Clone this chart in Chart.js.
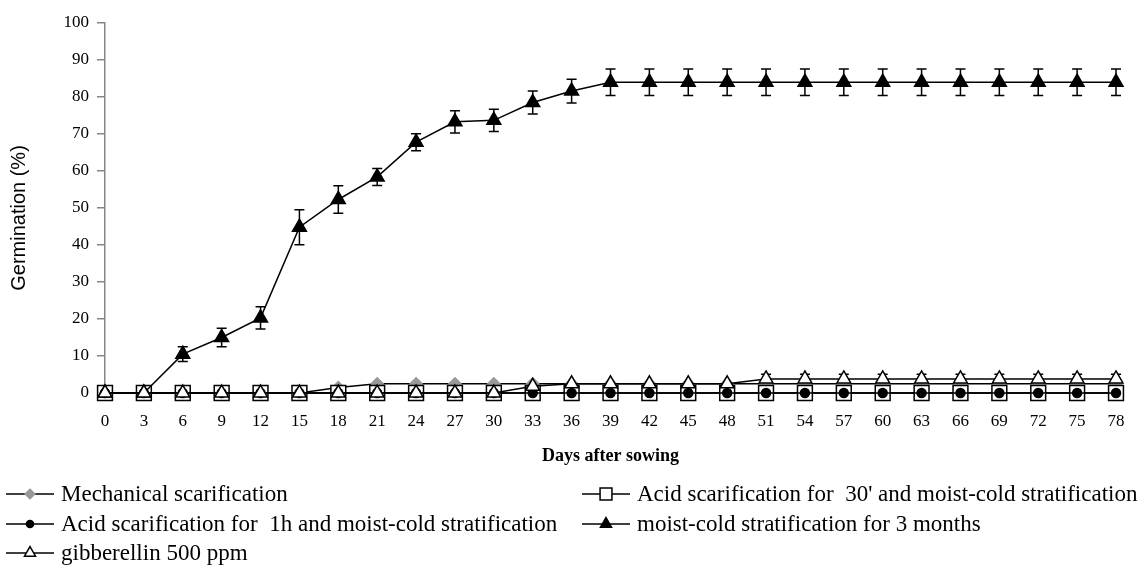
<!DOCTYPE html>
<html>
<head>
<meta charset="utf-8">
<script src="https://cdn.jsdelivr.net/npm/chart.js@4.4.0/dist/chart.umd.min.js"></script>
<style>
  html, body { margin: 0; padding: 0; background: #fff; }
  #wrap { width: 1145px; height: 567px; }
</style>
</head>
<body>
<div id="wrap"><canvas id="germChart" width="1145" height="567"></canvas></div>
<script>
// days after sowing (x categories)
const days = ['0', '3', '6', '9', '12', '15', '18', '21', '24', '27', '30', '33', '36', '39',
  '42', '45', '48', '51', '54', '57', '60', '63', '66', '69', '72', '75', '78'];

// germination (%) per treatment
const mechanical = [0, 0, 0, 0, 0, 0, 1.5, 2.5, 2.5, 2.5, 2.5, 2.5, 2.5, 2.5,
  2.5, 2.5, 2.5, 2.5, 2.5, 2.5, 2.5, 2.5, 2.5, 2.5, 2.5, 2.5, 2.5];
const acid30 = [0, 0, 0, 0, 0, 0, 0, 0, 0, 0, 0, 0, 0, 0,
  0, 0, 0, 0, 0, 0, 0, 0, 0, 0, 0, 0, 0];
const acid1h = [0, 0, 0, 0, 0, 0, 0, 0, 0, 0, 0, 0, 0, 0,
  0, 0, 0, 0, 0, 0, 0, 0, 0, 0, 0, 0, 0];
const moistCold = [0, 0, 10.5, 15, 20.3, 44.8, 52.3, 58.4, 67.8, 73.3, 73.7, 78.5, 81.6, 84,
  84, 84, 84, 84, 84, 84, 84, 84, 84, 84, 84, 84, 84];
const gibberellin = [0, 0, 0, 0, 0, 0, 0, 0, 0, 0, 0, 1.8, 2.5, 2.5,
  2.5, 2.5, 2.5, 3.8, 3.8, 3.8, 3.8, 3.8, 3.8, 3.8, 3.8, 3.8, 3.8];

// standard errors (drawn as error bars)
const moistColdErr = [0, 0, 2, 2.5, 3, 4.7, 3.7, 2.3, 2.3, 3, 3, 3.1, 3.2, 3.6,
  3.6, 3.6, 3.6, 3.6, 3.6, 3.6, 3.6, 3.6, 3.6, 3.6, 3.6, 3.6, 3.6];
const gibberellinErr = [0, 0, 0, 0, 0, 0, 0, 0, 0, 0, 0, 0, 0, 0,
  0, 0, 0, 1.3, 1.3, 1.3, 1.3, 1.3, 1.3, 1.3, 1.3, 1.3, 1.3];

const yTicks = [0, 10, 20, 30, 40, 50, 60, 70, 80, 90, 100];

const serif = '"Liberation Serif", "Times New Roman", serif';
const sans = '"Liberation Sans", Arial, sans-serif';

// error bars under the markers
const errorBars = {
  id: 'errorBars',
  beforeDatasetsDraw(chart) {
    const ctx = chart.ctx;
    const xs = chart.scales.x, ys = chart.scales.y;
    chart.data.datasets.forEach(ds => {
      if (!ds.errorBars) return;
      ctx.save();
      ctx.strokeStyle = '#000';
      ctx.lineWidth = 1.5;
      ds.errorBars.forEach((e, j) => {
        if (!e) return;
        const px = xs.getPixelForValue(j);
        const top = ys.getPixelForValue(ds.data[j] + e);
        const bot = ys.getPixelForValue(ds.data[j] - e);
        ctx.beginPath();
        ctx.moveTo(px, top); ctx.lineTo(px, bot);
        ctx.moveTo(px - 5, top); ctx.lineTo(px + 5, top);
        ctx.moveTo(px - 5, bot); ctx.lineTo(px + 5, bot);
        ctx.stroke();
      });
      ctx.restore();
    });
  }
};

// y title drawn by hand so it can sit a bit below the middle, like the original
const yTitle = {
  id: 'yTitle',
  afterDraw(chart) {
    const ctx = chart.ctx;
    ctx.save();
    ctx.translate(19, 218);
    ctx.rotate(-Math.PI / 2);
    ctx.fillStyle = '#000';
    ctx.font = '20px ' + sans;
    ctx.textAlign = 'center';
    ctx.textBaseline = 'middle';
    ctx.fillText('Germination (%)', 0, 0);
    ctx.restore();
  }
};

// legend: two columns under the axis title
const legendSlots = [[6, 494], [582, 494], [6, 524], [582, 524], [6, 553]];
const sideLegend = {
  id: 'sideLegend',
  afterDraw(chart) {
    const ctx = chart.ctx;
    chart.data.datasets.forEach((ds, i) => {
      const [x, y] = legendSlots[i];
      ctx.save();
      ctx.strokeStyle = '#000';
      ctx.lineWidth = 1.5;
      ctx.beginPath();
      ctx.moveTo(x, y); ctx.lineTo(x + 48, y);
      ctx.stroke();
      ctx.fillStyle = ds.pointBackgroundColor;
      ctx.strokeStyle = ds.pointBorderColor;
      Chart.helpers.drawPoint(ctx, {
        pointStyle: ds.pointStyle,
        radius: ds.pointRadius * 0.8,
        borderWidth: ds.pointBorderWidth,
        rotation: 0
      }, x + 24, y);
      ctx.fillStyle = '#000';
      ctx.font = '23px ' + serif;
      ctx.textBaseline = 'middle';
      ctx.fillText(ds.label, x + 55, y + 1);
      ctx.restore();
    });
  }
};

function series(label, data, style, radius, fill, border) {
  return {
    label: label,
    data: data,
    borderColor: '#000',
    borderWidth: 1.5,
    pointStyle: style,
    pointRadius: radius,
    pointBackgroundColor: fill,
    pointBorderColor: border,
    pointBorderWidth: 1.5,
    fill: false,
    tension: 0,
    clip: false
  };
}

const dsMech = series('Mechanical scarification', mechanical, 'rectRot', 6, '#999', '#999');
const dsA30 = series("Acid scarification for  30' and moist-cold stratification", acid30, 'rect', 10.5, '#fff', '#000');
const dsA1h = series('Acid scarification for  1h and moist-cold stratification', acid1h, 'circle', 4.5, '#000', '#000');
const dsMoist = series('moist-cold stratification for 3 months', moistCold, 'triangle', 8, '#000', '#000');
const dsGib = series('gibberellin 500 ppm', gibberellin, 'triangle', 8, '#fff', '#000');
dsMoist.errorBars = moistColdErr;
dsGib.errorBars = gibberellinErr;
// later series drawn on top, as in the source
dsMech.order = 5; dsA30.order = 4; dsA1h.order = 3; dsMoist.order = 2; dsGib.order = 1;

new Chart('germChart', {
  type: 'line',
  data: {
    labels: days,
    datasets: [dsMech, dsA30, dsA1h, dsMoist, dsGib]
  },
  options: {
    responsive: false,
    animation: false,
    devicePixelRatio: 1,
    layout: { padding: { top: 23, right: 29, bottom: 97, left: 0 } },
    plugins: {
      legend: { display: false },
      tooltip: { enabled: false }
    },
    scales: {
      x: {
        offset: false,
        grid: { display: false, drawTicks: false },
        border: { color: '#868686', width: 1.5 },
        ticks: { color: '#000', padding: 18, maxRotation: 0, autoSkip: false, font: { family: serif, size: 17 } },
        title: {
          display: true,
          text: 'Days after sowing',
          color: '#000',
          padding: { top: 0, bottom: 3 },
          font: { family: serif, size: 18, weight: 'bold' }
        },
        afterFit(scale) { scale.height = 77; }
      },
      y: {
        min: 0,
        max: 100,
        afterBuildTicks(scale) { scale.ticks = yTicks.map(v => ({ value: v })); },
        grid: { drawOnChartArea: false, drawTicks: true, tickLength: 8, color: '#868686', lineWidth: 1.5 },
        border: { color: '#868686', width: 1.5 },
        ticks: { color: '#000', padding: 8, font: { family: serif, size: 17 } },
        afterFit(scale) { scale.width = 105; }
      }
    }
  },
  plugins: [errorBars, yTitle, sideLegend]
});
</script>
</body>
</html>
